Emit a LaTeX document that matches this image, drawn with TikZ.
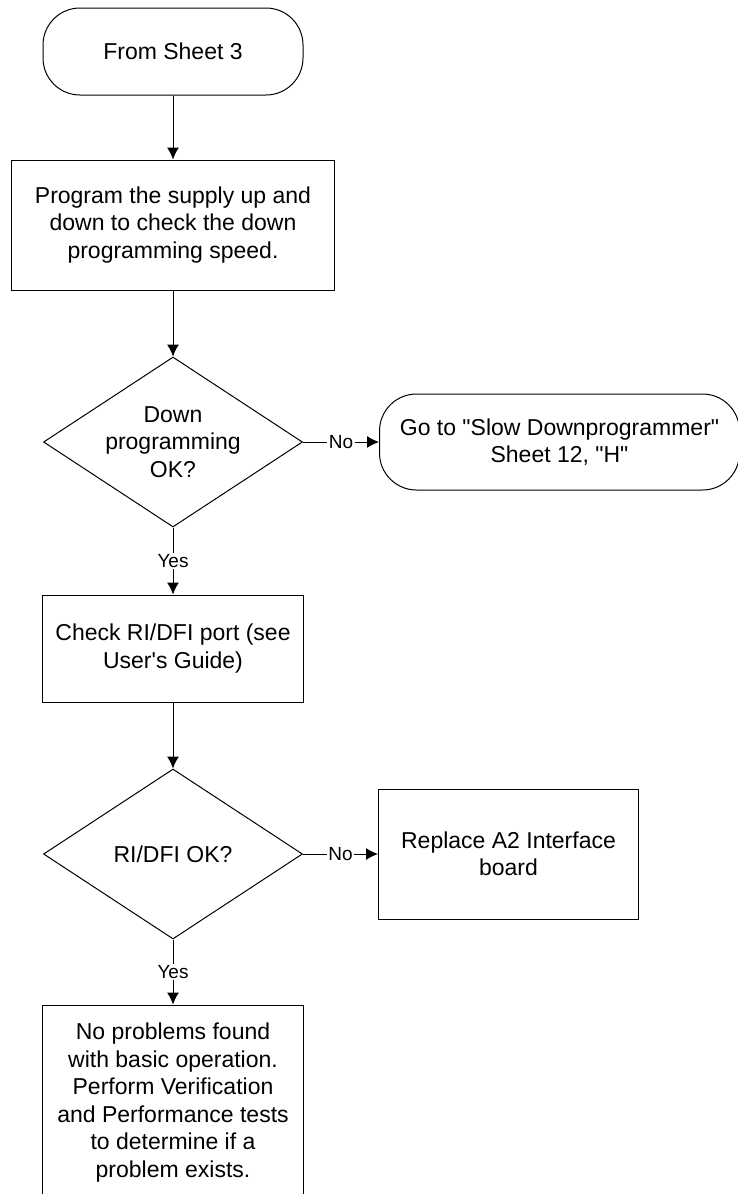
\documentclass[tikz,border=0pt]{standalone}
\usepackage{fontspec}
\setmainfont{Liberation Sans}
\usepackage{tikz}
\usetikzlibrary{arrows.meta,positioning,shapes.geometric}
\tikzstyle{every node}=[font=\fontsize{23}{27.5}\selectfont]
\tikzstyle{terminal}=[rectangle,
                      draw,
                      rounded corners=37pt,
                      minimum width=260pt,
                      minimum height=87pt,
                      align=center]
\tikzstyle{process}=[rectangle,
                     draw,
                     minimum width=261pt,
                     minimum height=130pt,
                     align=center]
\tikzstyle{decision}=[diamond,
                      draw,
                      aspect=1.52,
                      inner sep=0pt,
                      minimum width=259pt,
                      minimum height=170pt,
                      align=center]
\tikzstyle{answer}=[fill=white,
                    inner sep=1.5pt,
                    font=\fontsize{19}{22}\selectfont]
\newcommand{\dq}{\textquotedbl}

\begin{document}
\begin{tikzpicture}[node distance=66pt,>={Latex[length=12pt,width=12pt]},line width=1pt]
\useasboundingbox (0pt,0pt) rectangle (737pt,-1194pt);
\node (start)  [terminal] at (173pt,-51.5pt) {From Sheet 3};
\node (prog)   [process,minimum width=323pt,below=64pt of start] {Program the supply up and\\down to check the down\\programming speed.};
\node (downok) [decision,below=of prog] {Down\\programming\\OK?};
\node (slow)   [terminal,minimum width=360pt,minimum height=96pt,right=76pt of downok] {Go to \dq{}Slow Downprogrammer\dq{}\\Sheet 12, \dq{}H\dq{}};
\node (port)   [process,minimum height=107pt,below=67pt of downok] {Check RI/DFI port (see\\User\textquotesingle{}s Guide)};
\node (rdfiok) [decision,below=of port] {RI/DFI OK?};
\node (repl)   [process,minimum width=260pt,right=75pt of rdfiok] {Replace A2 Interface\\board};
\node (done)   [process,minimum height=195pt,below=65pt of rdfiok] {No problems found\\with basic operation.\\Perform Verification\\and Performance tests\\to determine if a\\problem exists.};
 \path[->] (start) edge (prog);
 \path[->] (prog) edge (downok);
 \path[->] (downok) edge node[answer] {No} (slow);
 \path[->] (downok) edge node[answer] {Yes} (port);
 \path[->] (port) edge (rdfiok);
 \path[->] (rdfiok) edge node[answer] {No} (repl);
 \path[->] (rdfiok) edge node[answer] {Yes} (done);
\end{tikzpicture}
\end{document}
